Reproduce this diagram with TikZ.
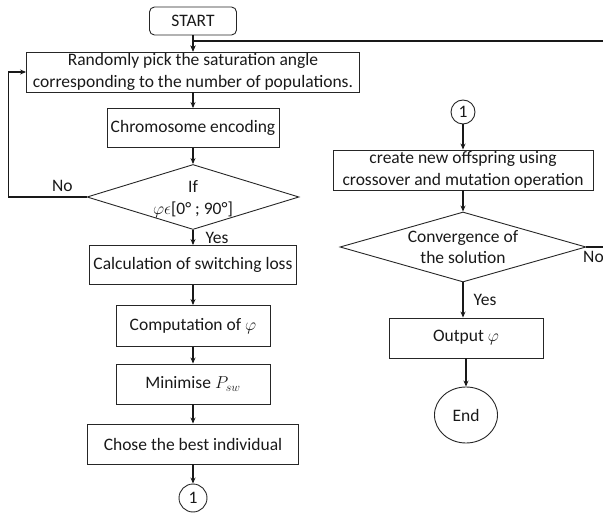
\documentclass[tikz,border=0pt]{standalone}
\usepackage{fontspec}
\setmainfont{Carlito}
\usetikzlibrary{arrows.meta,shapes.geometric}
\tikzset{
  fctext/.style={font=\fontsize{17.5}{21.5}\selectfont, text=black!90},
  fcbox/.style={fctext, draw=black!85, line width=0.9pt, rectangle, align=center, inner sep=0pt},
  fcstart/.style={fcbox, rounded corners=5pt},
  fcdec/.style={draw=black!85, line width=0.9pt, diamond, inner sep=0pt},
  fcconn/.style={fctext, draw=black!85, line width=0.9pt, circle, inner sep=0pt},
  fcend/.style={fctext, draw=black!85, line width=0.9pt, ellipse, inner sep=0pt},
  fcarrow/.style={draw=black!90, line width=1.3pt, -{Stealth[length=6pt,width=5pt]}},
  fclabel/.style={fctext, inner sep=0pt},
}
\begin{document}
\begin{tikzpicture}[x=1pt,y=-1pt]
\useasboundingbox (0,0) rectangle (603,513);
\clip (0,0) rectangle (603,513);
% left column
\node[fcstart, minimum width=87pt, minimum height=28pt] (start) at (193,21) {START};
\node[fcbox, minimum width=333pt, minimum height=40pt] (rand) at (193,72)
  {Randomly pick the saturation angle\\corresponding to the number of populations.};
\node[fcbox, minimum width=172pt, minimum height=39pt] (enc) at (193,128) {Chromosome encoding};
\node[fcdec, minimum width=212pt, minimum height=65pt,
  label={[fclabel, align=center, yshift=-2pt]center:If\\[1pt]$\varphi\epsilon$[0° ; 90°]}] (chk) at (193,197) {};
\node[fcbox, minimum width=207pt, minimum height=39pt] (loss) at (193,265) {Calculation of switching loss};
\node[fcbox, minimum width=154pt, minimum height=41pt] (phi) at (193,326) {Computation of $\varphi$};
\node[fcbox, minimum width=154pt, minimum height=40pt] (min) at (193,384) {Minimise $P_{sw}$};
\node[fcbox, minimum width=211pt, minimum height=40pt] (best) at (193,444) {Chose the best individual};
\node[fcconn, minimum size=28pt] (c1a) at (193,498) {1};
% right column
\node[fcconn, minimum size=24pt] (c1b) at (463,112) {1};
\node[fcbox, minimum width=260pt, minimum height=40pt] (off) at (463,170)
  {create new offspring using\\crossover and mutation operation};
\node[fcdec, minimum width=246pt, minimum height=70pt,
  label={[fclabel, align=center]center:Convergence of\\the solution}] (conv) at (463,247) {};
\node[fcbox, minimum width=154pt, minimum height=40pt] (out) at (466,338) {Output $\varphi$};
\node[fcend, minimum width=63pt, minimum height=56pt] (end) at (466,415) {End};
% connectors
\draw[fcarrow] (start) -- (rand);
\draw[fcarrow] (rand) -- (enc);
\draw[fcarrow] (enc) -- (chk);
\draw[fcarrow] (chk) -- node[fclabel, right=12pt] {Yes} (loss);
\draw[fcarrow] (chk.west) -- node[fclabel, pos=0.31, above=5pt] {No} ++(-78,0) |- (rand.west);
\draw[fcarrow] (loss) -- (phi);
\draw[fcarrow] (phi) -- (min);
\draw[fcarrow] (min) -- (best);
\draw[fcarrow] (best) -- (c1a);
\draw[fcarrow] (c1b) -- (off);
\draw[fcarrow] (off) -- (conv);
\draw[fcarrow] (conv) -- node[fclabel, right=10pt] {Yes} (out.north -| conv.south);
\draw[fcarrow] (out.south -| end.north) -- (end);
\draw[fcarrow] (conv.east) -- ++(40,0) |- (193,41) -- (rand.north);
\node[fclabel, anchor=north west] (no2) at (583,251) {No};
\end{tikzpicture}
\end{document}
